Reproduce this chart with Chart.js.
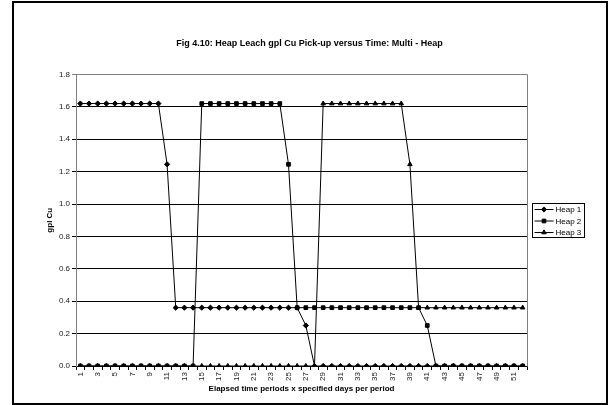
<!DOCTYPE html>
<html>
<head>
<meta charset="utf-8">
<script src="https://cdn.jsdelivr.net/npm/chart.js@4"></script>
<style>
  html, body { margin: 0; padding: 0; background: #fff; }
  canvas { display: block; }
</style>
</head>
<body>
<canvas id="chart" width="613" height="405"></canvas>
<script>
const periods = ['1', '2', '3', '4', '5', '6', '7', '8', '9', '10', '11', '12', '13',
  '14', '15', '16', '17', '18', '19', '20', '21', '22', '23', '24', '25', '26',
  '27', '28', '29', '30', '31', '32', '33', '34', '35', '36', '37', '38', '39',
  '40', '41', '42', '43', '44', '45', '46', '47', '48', '49', '50', '51', '52'];

const heap1 = [1.62, 1.62, 1.62, 1.62, 1.62, 1.62, 1.62, 1.62, 1.62, 1.62, 1.245,
  0.36, 0.36, 0.36, 0.36, 0.36, 0.36, 0.36, 0.36, 0.36, 0.36, 0.36, 0.36, 0.36, 0.36, 0.36,
  0.25, 0, 0, 0, 0, 0, 0, 0, 0, 0, 0, 0, 0, 0, 0, 0, 0, 0, 0, 0, 0, 0, 0, 0, 0, 0];

const heap2 = [0, 0, 0, 0, 0, 0, 0, 0, 0, 0, 0, 0, 0, 0,
  1.62, 1.62, 1.62, 1.62, 1.62, 1.62, 1.62, 1.62, 1.62, 1.62, 1.245,
  0.36, 0.36, 0.36, 0.36, 0.36, 0.36, 0.36, 0.36, 0.36, 0.36, 0.36, 0.36, 0.36, 0.36, 0.36,
  0.25, 0, 0, 0, 0, 0, 0, 0, 0, 0, 0, 0];

const heap3 = [0, 0, 0, 0, 0, 0, 0, 0, 0, 0, 0, 0, 0, 0, 0, 0, 0, 0, 0, 0,
  0, 0, 0, 0, 0, 0, 0, 0,
  1.62, 1.62, 1.62, 1.62, 1.62, 1.62, 1.62, 1.62, 1.62, 1.62, 1.245,
  0.36, 0.36, 0.36, 0.36, 0.36, 0.36, 0.36, 0.36, 0.36, 0.36, 0.36, 0.36, 0.36];

const seriesNames = ['Heap 1', 'Heap 2', 'Heap 3'];
const yTicks = [0, 0.2, 0.4, 0.6, 0.8, 1.0, 1.2, 1.4, 1.6, 1.8];

const FONT = '"Liberation Sans", Arial, sans-serif';

// frame, plot border and the boxed legend Excel puts on the right
const excelBits = {
  id: 'excelBits',
  beforeDraw(chart) {
    const c = chart.ctx;
    c.save();
    c.fillStyle = '#fff';
    c.fillRect(0, 0, chart.width, chart.height);
    c.restore();
  },
  afterDraw(chart) {
    const c = chart.ctx;
    const a = chart.chartArea;
    c.save();
    // plot area border (top/right), grey
    c.strokeStyle = '#808080';
    c.lineWidth = 1;
    c.beginPath();
    c.moveTo(Math.round(a.left) + 0.5, Math.round(a.top) + 0.5);
    c.lineTo(Math.round(a.right) + 0.5, Math.round(a.top) + 0.5);
    c.lineTo(Math.round(a.right) + 0.5, Math.round(a.bottom) + 0.5);
    c.stroke();

    // outer frame
    c.strokeStyle = '#000';
    c.lineWidth = 2;
    c.strokeRect(13, 2, 594, 402);

    // legend, centred on the plot vertically
    const lw = 52, lh = 34;
    const lx = Math.round(a.right) + 5.5;
    const ly = Math.round((a.top + a.bottom) / 2 - lh / 2) + 0.5;
    c.lineWidth = 1;
    c.strokeRect(lx, ly, lw, lh);
    c.font = '8px ' + FONT;
    c.textBaseline = 'middle';
    c.textAlign = 'left';
    chart.data.datasets.forEach((ds, i) => {
      const y = ly + 6 + i * 11.5;
      c.strokeStyle = '#000';
      c.fillStyle = '#000';
      c.beginPath();
      c.moveTo(lx + 2, y);
      c.lineTo(lx + 21, y);
      c.stroke();
      Chart.helpers.drawPoint(c, {
        pointStyle: ds.pointStyle, radius: ds.pointRadius, rotation: 0, borderWidth: 1
      }, lx + 11.5, y);
      c.fillText(ds.label, lx + 23, y + 0.5);
    });
    c.restore();
  }
};

function series(label, data, style, order) {
  return {
    label: label,
    data: data,
    borderColor: '#000',
    backgroundColor: '#000',
    borderWidth: 1,
    pointStyle: style,
    pointRadius: 2.6,
    pointBorderWidth: 1,
    pointBorderColor: '#000',
    pointBackgroundColor: '#000',
    tension: 0,
    order: order
  };
}

const ctx = document.getElementById('chart').getContext('2d');

new Chart(ctx, {
  type: 'line',
  data: {
    labels: periods,
    datasets: [
      series(seriesNames[0], heap1, 'rectRot', 1),
      series(seriesNames[1], heap2, 'rect', 0),
      series(seriesNames[2], heap3, 'triangle', 2)
    ]
  },
  options: {
    responsive: false,
    animation: false,
    devicePixelRatio: 1,
    layout: { padding: { left: 13, right: 7, top: 0, bottom: 4 } },
    plugins: {
      legend: { display: false },
      tooltip: { enabled: false },
      title: {
        display: true,
        text: 'Fig 4.10: Heap Leach gpl Cu Pick-up versus Time: Multi - Heap',
        color: '#000',
        font: { family: FONT, size: 9, weight: 'bold' },
        padding: { top: 38.6, bottom: 25 }
      }
    },
    scales: {
      x: {
        offset: true,
        afterFit(s) { s.height = 35; },
        grid: {
          offset: true,
          drawOnChartArea: false,
          drawTicks: true,
          tickLength: 4,
          color: '#000'
        },
        border: { color: '#000', width: 1 },
        ticks: {
          autoSkip: false,
          minRotation: 90,
          maxRotation: 90,
          padding: 2,
          color: '#222',
          font: { family: FONT, size: 8 },
          callback(v, i) { return i % 2 === 0 ? periods[i] : ''; }
        },
        title: {
          display: true,
          text: 'Elapsed time periods x specified days per period',
          color: '#000',
          font: { family: FONT, size: 8, weight: 'bold' },
          padding: { top: 0, bottom: 7 }
        }
      },
      y: {
        min: yTicks[0],
        max: yTicks[yTicks.length - 1],
        afterFit(s) { s.width = 63; },
        afterBuildTicks(s) { s.ticks = yTicks.map(v => ({ value: v })); },
        grid: {
          color(c) { return c.tick && c.tick.value >= 1.79 ? '#808080' : '#000'; },
          lineWidth: 1,
          drawTicks: true,
          tickLength: 4
        },
        border: { color: '#808080', width: 1 },
        ticks: {
          padding: 2,
          color: '#222',
          font: { family: FONT, size: 8 },
          callback(v) { return Number(v).toFixed(1); }
        },
        title: {
          display: true,
          text: 'gpl Cu',
          color: '#000',
          font: { family: FONT, size: 8, weight: 'bold' },
          padding: { top: 32, bottom: 0 }
        }
      },
      // empty strip on the right that holds the legend
      legendSpace: {
        type: 'linear',
        position: 'right',
        afterFit(s) { s.width = 79; },
        grid: { display: false, drawOnChartArea: false },
        border: { display: false },
        ticks: { display: false }
      }
    }
  },
  plugins: [excelBits]
});
</script>
</body>
</html>
